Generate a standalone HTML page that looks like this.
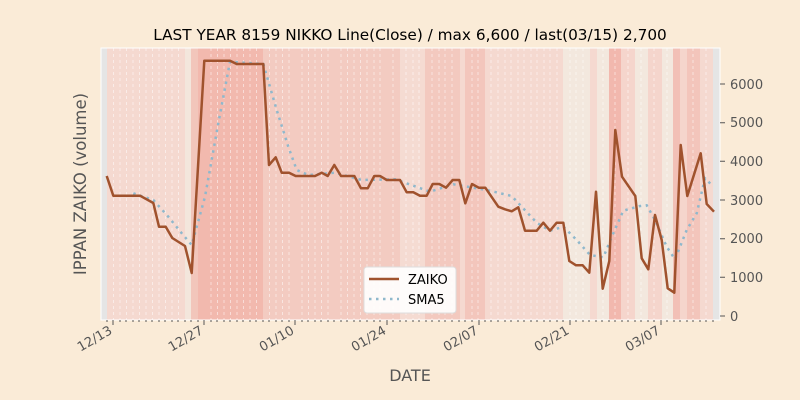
<!DOCTYPE html>
<html><head><meta charset="utf-8"><style>body{margin:0;background:#faebd7}svg{display:block}text{font-family:"DejaVu Sans","Liberation Sans",sans-serif}</style></head>
<body>
<svg width="800" height="400" viewBox="0 0 800 400">
<rect width="800" height="400" fill="#faebd7"/>
<rect x="101" y="48" width="619" height="272" fill="#f3d9cf"/>
<g>
<rect x="101" y="48" width="6" height="272" fill="#e5e5e5"/>
<rect x="107" y="48" width="78" height="272" fill="#f5d9d0"/>
<rect x="185" y="48" width="6" height="272" fill="#f3e6dc"/>
<rect x="191" y="48" width="7" height="272" fill="#f2c6bb"/>
<rect x="198" y="48" width="65" height="272" fill="#f2b9ae"/>
<rect x="263" y="48" width="137" height="272" fill="#f3cbc1"/>
<rect x="400" y="48" width="25" height="272" fill="#f5dbd2"/>
<rect x="425" y="48" width="35" height="272" fill="#f3c9bf"/>
<rect x="460" y="48" width="5" height="272" fill="#f5d9d0"/>
<rect x="465" y="48" width="20" height="272" fill="#f3c6bc"/>
<rect x="485" y="48" width="78" height="272" fill="#f5d9d0"/>
<rect x="563" y="48" width="27" height="272" fill="#f3e8de"/>
<rect x="590" y="48" width="7" height="272" fill="#f5d9d0"/>
<rect x="597" y="48" width="12" height="272" fill="#f3e8de"/>
<rect x="609" y="48" width="12" height="272" fill="#f2b8ae"/>
<rect x="621" y="48" width="14" height="272" fill="#f5d5cc"/>
<rect x="635" y="48" width="13" height="272" fill="#f3e8de"/>
<rect x="648" y="48" width="14" height="272" fill="#f5d5cc"/>
<rect x="662" y="48" width="11" height="272" fill="#f3e8de"/>
<rect x="673" y="48" width="7" height="272" fill="#f2c0b6"/>
<rect x="680" y="48" width="7" height="272" fill="#f5d5cc"/>
<rect x="687" y="48" width="13" height="272" fill="#f3c5bb"/>
<rect x="700" y="48" width="13" height="272" fill="#f5d9d0"/>
<rect x="713" y="48" width="7" height="272" fill="#e5e5e5"/>
</g>
<g stroke="#fff" stroke-opacity="0.5" stroke-width="1" stroke-dasharray="3,3">
<path d="M113.5 48V320M120 48V320M126.5 48V320M133 48V320M139.5 48V320M146 48V320M152.5 48V320M159 48V320M165.5 48V320M172 48V320M178.5 48V320M211 48V320M217.5 48V320M224 48V320M230.5 48V320M237 48V320M243.5 48V320M250 48V320M256.5 48V320M269.5 48V320M276 48V320M282.5 48V320M289 48V320M302 48V320M308.5 48V320M315 48V320M321.5 48V320M328 48V320M341 48V320M347.5 48V320M354 48V320M360.5 48V320M367 48V320M374 48V320M380 48V320M393 48V320M406 48V320M413 48V320M419 48V320M432 48V320M439 48V320M445 48V320M452 48V320M472 48V320M478 48V320M491 48V320M498 48V320M505 48V320M511 48V320M518 48V320M524 48V320M531 48V320M537 48V320M544 48V320M550 48V320M557 48V320M570 48V320M576 48V320M583 48V320M603 48V320M615 48V320M628 48V320M641 48V320M654 48V320M667 48V320M693 48V320M706 48V320"/>
</g>
<rect x="101" y="48" width="619" height="272" fill="none" stroke="#fff" stroke-width="1"/>
<polyline fill="none" stroke="#8fb8cc" stroke-width="2.5" stroke-dasharray="2.5,4.5" points="133.3,193.3 153.3,200 168.3,216.7 182.3,234 191.7,245 205,196.7 218.3,123.3 230,61.7 238.3,62.3 263.3,64 276.7,110 288.3,146.7 296.7,170 308.3,175 335,172.7 361.7,180 395,179.3 413.3,185.7 430,191.7 453.3,184.3 486.7,190 511.7,196 521.7,206.7 536.7,222.7 550,230.7 563.3,226.7 576.7,240 590,255 603.3,257.3 613.3,233.3 623.3,210.7 640,206 646.7,205.3 655,220 666.7,246.7 675,259.3 686.7,230 696.7,213.3 705,178.3 711.7,185"/>
<polyline fill="none" stroke="#a0522d" stroke-width="2.5" stroke-linejoin="round" points="106.7,176 113.3,195.7 140,195.7 153.3,203 159,226.7 165.7,226.7 172.3,238 185,246 191.7,273 204.3,60.7 230,60.7 236.7,64 263.3,64 269,165 275.7,157.3 281.7,172.7 289,172.7 295.7,176 315,176 321.7,172.7 327.7,176 334.3,165 341,176 354.3,176 361,188.3 367.7,188.3 374.3,176 380,176 386.7,180 400,180 406.7,192.3 413.3,192.3 420,195.7 426.7,195.7 432.7,184 439.3,184 446,187.7 452.7,180 459.3,180 465.3,203.3 472,184 478.7,187.7 485.3,187.7 498.3,206.7 505,209.3 511.7,211.3 518.3,207.3 525,230.7 536.7,230.7 543.3,222.7 550,230.7 556.7,222.7 563.3,222.7 569.3,261 576,265.3 582.7,265.3 589.3,272.7 596,191.7 602.7,288.7 609.3,261 615.3,130 622,176.7 635.3,196 641.7,258.3 648.3,269.3 655,215 661.7,240 667.7,288.3 674.3,292.7 680.7,145 687.3,196 700.7,153.3 706.7,204 714,211.7"/>
<g stroke="#555" stroke-width="1">
<path d="M113 320v5M204 320v5M295 320v5M387 320v5M479 320v5M570 320v5M661 320v5"/>
<path d="M107 320v2M120 320v2M126 320v2M133 320v2M139 320v2M146 320v2M152 320v2M159 320v2M165 320v2M172 320v2M178 320v2M185 320v2M191 320v2M198 320v2M211 320v2M217 320v2M224 320v2M230 320v2M237 320v2M243 320v2M250 320v2M256 320v2M263 320v2M269 320v2M276 320v2M282 320v2M289 320v2M302 320v2M308 320v2M315 320v2M321 320v2M328 320v2M334 320v2M341 320v2M347 320v2M354 320v2M360 320v2M367 320v2M374 320v2M380 320v2M393 320v2M400 320v2M406 320v2M413 320v2M419 320v2M426 320v2M432 320v2M439 320v2M445 320v2M452 320v2M459 320v2M465 320v2M472 320v2M485 320v2M491 320v2M498 320v2M505 320v2M511 320v2M518 320v2M524 320v2M531 320v2M537 320v2M544 320v2M550 320v2M557 320v2M563 320v2M576 320v2M583 320v2M589 320v2M596 320v2M602 320v2M609 320v2M615 320v2M622 320v2M628 320v2M635 320v2M641 320v2M648 320v2M654 320v2M667 320v2M674 320v2M680 320v2M687 320v2M693 320v2M700 320v2M706 320v2M713 320v2"/>
<path d="M720 316h5M720 277.3h5M720 238.7h5M720 200h5M720 161.3h5M720 122.7h5M720 84h5"/>
</g>
<g font-size="13" fill="#555">
<text x="730" y="321">0</text><text x="730" y="282">1000</text><text x="730" y="243">2000</text><text x="730" y="205">3000</text><text x="730" y="166">4000</text><text x="730" y="127">5000</text><text x="730" y="89">6000</text>
</g>
<g font-size="13" fill="#555" text-anchor="end">
<text transform="translate(113,333) rotate(-30)">12/13</text>
<text transform="translate(204,333) rotate(-30)">12/27</text>
<text transform="translate(295,333) rotate(-30)">01/10</text>
<text transform="translate(387,333) rotate(-30)">01/24</text>
<text transform="translate(479,333) rotate(-30)">02/07</text>
<text transform="translate(570,333) rotate(-30)">02/21</text>
<text transform="translate(661,333) rotate(-30)">03/07</text>
</g>
<text x="410" y="381" font-size="16" fill="#555" text-anchor="middle">DATE</text>
<text transform="translate(86,184) rotate(-90)" font-size="16.5" fill="#555" text-anchor="middle">IPPAN ZAIKO (volume)</text>
<text x="410" y="40" font-size="15.3" fill="#000" text-anchor="middle">LAST YEAR 8159 NIKKO Line(Close) / max 6,600 / last(03/15) 2,700</text>
<rect x="364" y="267" width="92" height="46" rx="3" fill="#fff" fill-opacity="0.9" stroke="#ddd"/>
<line x1="369" y1="279" x2="399" y2="279" stroke="#a0522d" stroke-width="2.5"/>
<line x1="369" y1="299" x2="399" y2="299" stroke="#8fb8cc" stroke-width="2.5" stroke-dasharray="2.5,4.5"/>
<text x="408" y="284" font-size="13" fill="#000">ZAIKO</text>
<text x="408" y="304" font-size="13" fill="#000">SMA5</text>
</svg>
</body></html>
